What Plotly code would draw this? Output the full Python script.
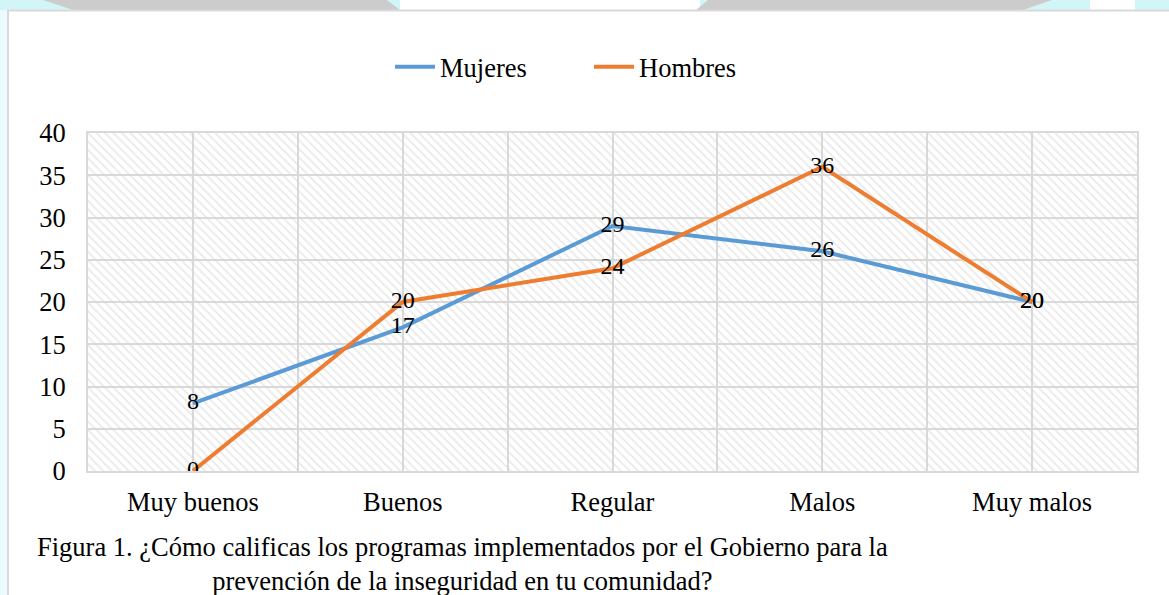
import plotly.graph_objects as go

categories = ["Muy buenos", "Buenos", "Regular", "Malos", "Muy malos"]
mujeres = [8, 17, 29, 26, 20]
hombres = [0, 20, 24, 36, 20]
series_names = ["Mujeres", "Hombres"]
y_ticks = [0, 5, 10, 15, 20, 25, 30, 35, 40]
caption = ("Figura 1. ¿Cómo calificas los programas implementados por el Gobierno para la<br>"
           "prevención de la inseguridad en tu comunidad?")

BLUE = "#5B9BD5"
ORANGE = "#ED7D31"
GRID = "#d9d9d9"
FONT = "Liberation Serif"
FS = 26.5
FS_LABEL = 24

W, H = 1169, 595
L, R, T, B = 88, 1137, 133, 471

def px(p):
    return (p - L) / (R - L)

def py(p):
    return (B - p) / (B - T)

xs = list(range(len(categories)))

fig = go.Figure()

# hatched plot background
fig.add_trace(go.Scatter(
    x=[-0.5, len(categories) - 0.5, len(categories) - 0.5, -0.5, -0.5],
    y=[0, 0, 40, 40, 0], mode="lines", line=dict(width=0),
    fill="toself", fillcolor="rgba(0,0,0,0)",
    fillpattern=dict(shape="\\", fgcolor="#d4d4d4", bgcolor="rgba(0,0,0,0)",
                     size=6, solidity=0.3),
    hoverinfo="skip", showlegend=False))

fig.add_trace(go.Scatter(x=xs, y=mujeres, mode="lines", name=series_names[0],
                         line=dict(color=BLUE, width=4)))
fig.add_trace(go.Scatter(x=xs, y=hombres, mode="lines", name=series_names[1],
                         line=dict(color=ORANGE, width=4)))
for vals in (mujeres, hombres):
    fig.add_trace(go.Scatter(x=xs, y=vals, mode="text", text=[str(v) for v in vals],
                             textposition="middle center",
                             textfont=dict(family=FONT, size=FS_LABEL, color="black"),
                             showlegend=False, hoverinfo="skip"))

shapes = []
# top decoration
shapes.append(dict(type="rect", xref="paper", yref="paper", x0=px(0), x1=px(W), y0=py(10), y1=py(0),
                   fillcolor="#d2f6f8", line=dict(width=0), layer="below"))
shapes.append(dict(type="rect", xref="paper", yref="paper", x0=px(1090), x1=px(1135), y0=py(10), y1=py(0),
                   fillcolor="#ffffff", line=dict(width=0), layer="below"))
def poly(pts):
    s = "M " + " L ".join(f"{px(a)},{py(b)}" for a, b in pts) + " Z"
    return dict(type="path", xref="paper", yref="paper", path=s,
                fillcolor="#cccccc", line=dict(width=0), layer="below")
shapes.append(dict(type="rect", xref="paper", yref="paper", x0=px(400), x1=px(700), y0=py(10), y1=py(0),
                   fillcolor="#ffffff", line=dict(width=0), layer="below"))
shapes.append(poly([(43, 0), (387, 0), (400, 10), (73, 10)]))
shapes.append(poly([(708, 0), (1052, 0), (1023, 10), (696, 10)]))
# left faint cyan strip
shapes.append(dict(type="rect", xref="paper", yref="paper", x0=px(0), x1=px(7), y0=py(H), y1=py(10),
                   fillcolor="#eafcfd", line=dict(width=0), layer="below"))
# border lines
shapes.append(dict(type="line", xref="paper", yref="paper", x0=px(8), x1=px(W), y0=py(10.5), y1=py(10.5),
                   line=dict(color="#d9d9d9", width=2)))
shapes.append(dict(type="line", xref="paper", yref="paper", x0=px(8), x1=px(8), y0=py(10), y1=py(H),
                   line=dict(color="#d9d9d9", width=2)))

fig.update_layout(
    width=W, height=H,
    margin=dict(l=L, r=W - R, t=T, b=H - B, pad=0),
    paper_bgcolor="white", plot_bgcolor="white",
    font=dict(family=FONT, size=FS, color="black"),
    showlegend=True,
    legend=dict(orientation="h", x=px(589), xanchor="center", y=py(67), yanchor="middle",
                font=dict(family=FONT, size=FS, color="black"), itemwidth=40,
                entrywidth=144, entrywidthmode="pixels",
                bgcolor="rgba(0,0,0,0)"),
    shapes=shapes,
    annotations=[dict(text=caption, xref="paper", yref="paper", x=px(462), y=py(564),
                      xanchor="center", yanchor="middle", showarrow=False, align="center",
                      font=dict(family=FONT, size=FS, color="black"))],
)

fig.update_xaxes(range=[-0.5, len(categories) - 0.5], tickmode="array", tickvals=xs,
                 ticktext=categories, showgrid=True, gridcolor=GRID, gridwidth=2,
                 minor=dict(tickmode="linear", tick0=-0.5, dtick=1, showgrid=True,
                            gridcolor=GRID, gridwidth=2),
                 showline=True, linecolor=GRID, linewidth=2, mirror=True,
                 ticks="", ticklabelstandoff=6, zeroline=False,
                 tickfont=dict(family=FONT, size=FS, color="black"))
fig.update_yaxes(range=[0, 40], tickmode="array", tickvals=y_ticks,
                 showgrid=True, gridcolor=GRID, gridwidth=2,
                 showline=True, linecolor=GRID, linewidth=2, mirror=True,
                 ticks="", ticklabelstandoff=15, zeroline=False,
                 tickfont=dict(family=FONT, size=FS, color="black"))

fig.write_html("out.html", config={"displayModeBar": False},
               post_script="document.body.style.margin='0px';")
